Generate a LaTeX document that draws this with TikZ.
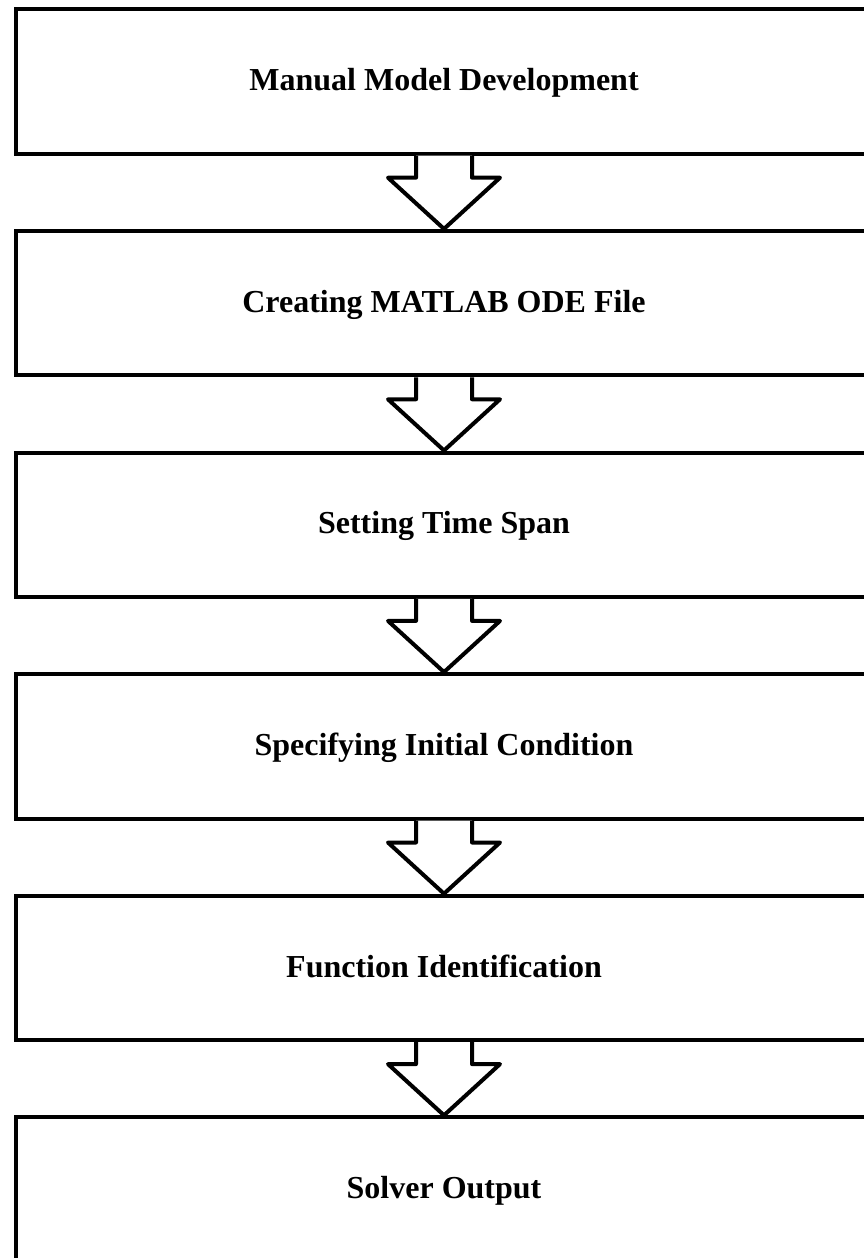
\documentclass[tikz,border=0pt]{standalone}
\usepackage{fontspec}
\setmainfont{Liberation Serif}
\usetikzlibrary{calc}
\tikzset{
  stagebox/.style={draw=black, line width=4pt, fill=white, rectangle,
    minimum width=857pt, minimum height=144.4pt, inner sep=0pt,
    font=\fontsize{32}{38}\selectfont\bfseries,
    text height=22pt, text depth=3.6pt},
  flowline/.style={draw=black, line width=4pt, line join=round, line cap=butt},
}
\begin{document}
\begin{tikzpicture}[x=1pt, y=-1pt]
  \useasboundingbox (0,0) rectangle (864,1258);
  \clip (0,0) rectangle (864,1258);
  % stacked process stages
  \foreach \i/\name/\txt in {0/b1/Manual Model Development,
                            1/b2/Creating MATLAB ODE File,
                            2/b3/Setting Time Span,
                            3/b4/Specifying Initial Condition,
                            4/b5/Function Identification,
                            5/b6/Solver Output} {
    \node[stagebox] (\name) at (444, {81.5+\i*221.6}) {\txt};
  }
  % hollow block arrows between consecutive stages
  \foreach \a/\b in {b1/b2, b2/b3, b3/b4, b4/b5, b5/b6} {
    \coordinate (sl) at ($(\a.south)+(-28,0)$);
    \coordinate (sr) at ($(\a.south)+(28,0)$);
    \coordinate (nl) at ($(\a.south)+(-28,22)$);
    \coordinate (nr) at ($(\a.south)+(28,22)$);
    \coordinate (fl) at ($(\a.south)+(-56,22)$);
    \coordinate (fr) at ($(\a.south)+(56,22)$);
    \fill[white] (sl) -- (nl) -- (fl) -- (\b.north) -- (fr) -- (nr) -- (sr) -- cycle;
    \draw[flowline] (sl) -- (nl) -- (fl) -- (\b.north) -- (fr) -- (nr) -- (sr);
  }
\end{tikzpicture}
\end{document}
